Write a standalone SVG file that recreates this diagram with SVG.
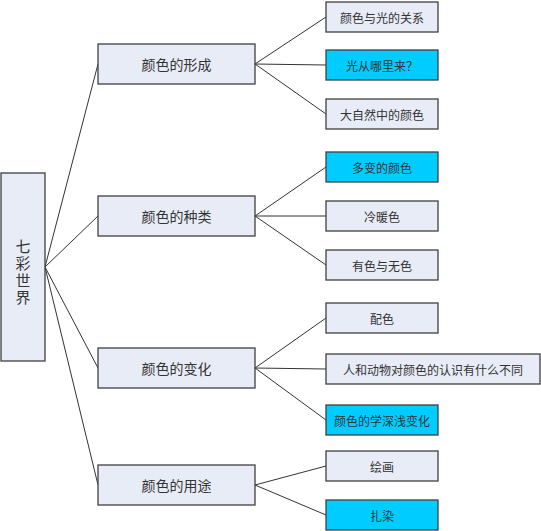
<svg xmlns="http://www.w3.org/2000/svg" width="541" height="531" viewBox="0 0 541 531">
<style>
.n rect{fill:#E8ECF6;stroke:#404040;stroke-width:1.3}
.n.c rect{fill:#00CCFF}
text{font-family:"Noto Sans CJK SC","Liberation Sans",sans-serif;fill:#333;text-anchor:middle;dominant-baseline:central}
.l2 text{font-size:14px}
.l3 text{font-size:12px}
#conn line{stroke:#333;stroke-width:1}
</style>
<rect width="541" height="531" fill="#fff"/>
<g id="conn">
<line x1="45" y1="267" x2="98" y2="64"/>
<line x1="45" y1="267" x2="98" y2="216"/>
<line x1="45" y1="267" x2="98" y2="368"/>
<line x1="45" y1="267" x2="98" y2="485"/>
<line x1="255" y1="64" x2="326" y2="17"/>
<line x1="255" y1="64" x2="326" y2="65"/>
<line x1="255" y1="64" x2="326" y2="114"/>
<line x1="255" y1="216" x2="326" y2="167"/>
<line x1="255" y1="216" x2="326" y2="216"/>
<line x1="255" y1="216" x2="326" y2="265"/>
<line x1="255" y1="368" x2="326" y2="318"/>
<line x1="255" y1="368" x2="326" y2="369"/>
<line x1="255" y1="368" x2="326" y2="420"/>
<line x1="255" y1="485" x2="326" y2="466"/>
<line x1="255" y1="485" x2="326" y2="515"/>
</g>
<g id="root" class="n"><rect x="1" y="173" width="44" height="188"/>
<text x="23" y="273" font-size="15" style="writing-mode:vertical-rl;letter-spacing:2px;dominant-baseline:auto">七彩世界</text></g>
<g id="b1" class="n l2"><rect x="98" y="44" width="157" height="40"/><text x="176.5" y="64">颜色的形成</text></g>
<g id="b2" class="n l2"><rect x="98" y="196" width="157" height="40"/><text x="176.5" y="216">颜色的种类</text></g>
<g id="b3" class="n l2"><rect x="98" y="348" width="157" height="40"/><text x="176.5" y="368">颜色的变化</text></g>
<g id="b4" class="n l2"><rect x="98" y="465" width="157" height="40"/><text x="176.5" y="485">颜色的用途</text></g>
<g id="c1" class="n l3"><rect x="326" y="2" width="112" height="30"/><text x="382" y="17">颜色与光的关系</text></g>
<g id="c2" class="n c l3"><rect x="326" y="50" width="112" height="30"/><text x="382" y="65">光从哪里来？</text></g>
<g id="c3" class="n l3"><rect x="326" y="99" width="112" height="30"/><text x="382" y="114">大自然中的颜色</text></g>
<g id="c4" class="n c l3"><rect x="326" y="152" width="112" height="30"/><text x="382" y="167">多变的颜色</text></g>
<g id="c5" class="n l3"><rect x="326" y="201" width="112" height="30"/><text x="382" y="216">冷暖色</text></g>
<g id="c6" class="n l3"><rect x="326" y="250" width="112" height="30"/><text x="382" y="265">有色与无色</text></g>
<g id="c7" class="n l3"><rect x="326" y="303" width="112" height="30"/><text x="382" y="318">配色</text></g>
<g id="c8" class="n l3"><rect x="326" y="354" width="214" height="30"/><text x="433" y="369">人和动物对颜色的认识有什么不同</text></g>
<g id="c9" class="n c l3"><rect x="326" y="405" width="112" height="30"/><text x="382" y="420">颜色的学深浅变化</text></g>
<g id="c10" class="n l3"><rect x="326" y="451" width="112" height="30"/><text x="382" y="466">绘画</text></g>
<g id="c11" class="n c l3"><rect x="326" y="500" width="112" height="30"/><text x="382" y="515">扎染</text></g>
</svg>
